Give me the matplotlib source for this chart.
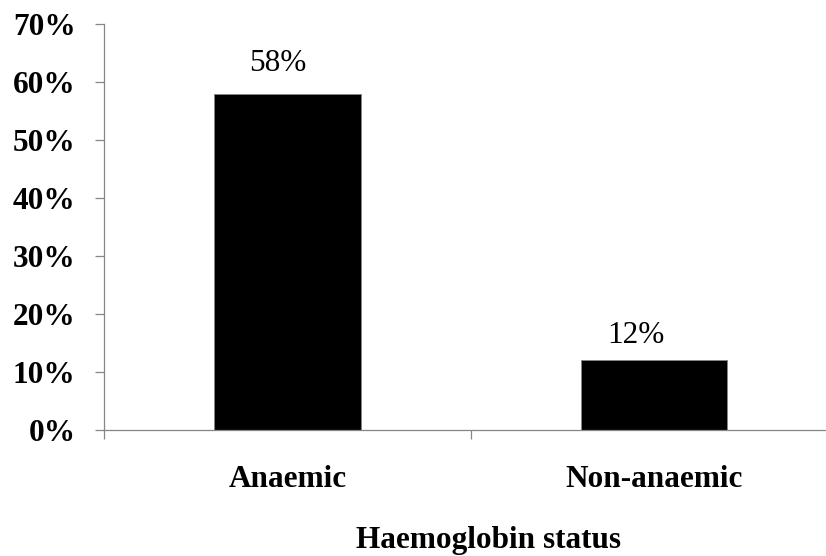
import matplotlib
matplotlib.use("Agg")
import matplotlib.pyplot as plt
from matplotlib.ticker import FuncFormatter

categories = ["Anaemic", "Non-anaemic"]
values = [58, 12]
value_labels = ["58%", "12%"]
yticks = [0, 10, 20, 30, 40, 50, 60, 70]
xlabel = "Haemoglobin status"

label_offsets = [(-7.2, 16.6), (-13.0, 12.2)]

W, H, DPI = 826, 556, 100
fig = plt.figure(figsize=(W / DPI, H / DPI), dpi=DPI)
left, right_px, top_px, bottom_px = 104, 837.4, 24, 430
ax = fig.add_axes([left / W, (H - bottom_px) / H, (right_px - left) / W, (bottom_px - top_px) / H])

serif = "Liberation Serif"
grey = "#868686"

x = list(range(len(categories)))
ax.bar(x, values, width=0.40, color="black", edgecolor=grey, linewidth=0.7, zorder=2)
ax.set_xlim(-0.5, len(categories) - 0.5)
ax.set_ylim(0, 70)
ax.set_yticks(yticks)
ax.yaxis.set_major_formatter(FuncFormatter(lambda v, p: f"{int(v)}%"))

ax.set_xticks([-0.5, 0.5, 1.5], minor=False)
ax.set_xticklabels([])
ax.set_xticks(x, minor=True)
ax.set_xticklabels(categories, minor=True)
ax.tick_params(axis="x", which="major", direction="out", length=6.5, width=0.9, color=grey)
ax.tick_params(axis="x", which="minor", length=0, pad=25)
ax.tick_params(axis="y", direction="out", length=6.5, width=0.9, color=grey, pad=14)

for lab in ax.get_xticklabels(minor=True):
    lab.set_fontfamily(serif)
    lab.set_fontweight("bold")
    lab.set_fontsize(22.5)
for lab in ax.get_yticklabels():
    lab.set_fontfamily(serif)
    lab.set_fontweight("bold")
    lab.set_fontsize(22.5)

for s in ["top", "right"]:
    ax.spines[s].set_visible(False)
for s in ["left", "bottom"]:
    ax.spines[s].set_color(grey)
    ax.spines[s].set_linewidth(0.9)

for xi, v, lab, off in zip(x, values, value_labels, label_offsets):
    ax.annotate(lab, (xi, v), xytext=off, textcoords="offset points",
                ha="center", va="baseline", fontfamily=serif, fontsize=22.5)

ax.set_xlabel(xlabel, fontfamily=serif, fontweight="bold", fontsize=22.5, va="baseline")
ax.xaxis.set_label_coords(0.524, -(548 - bottom_px) / (bottom_px - top_px))

fig.savefig("out.png", dpi=DPI)
